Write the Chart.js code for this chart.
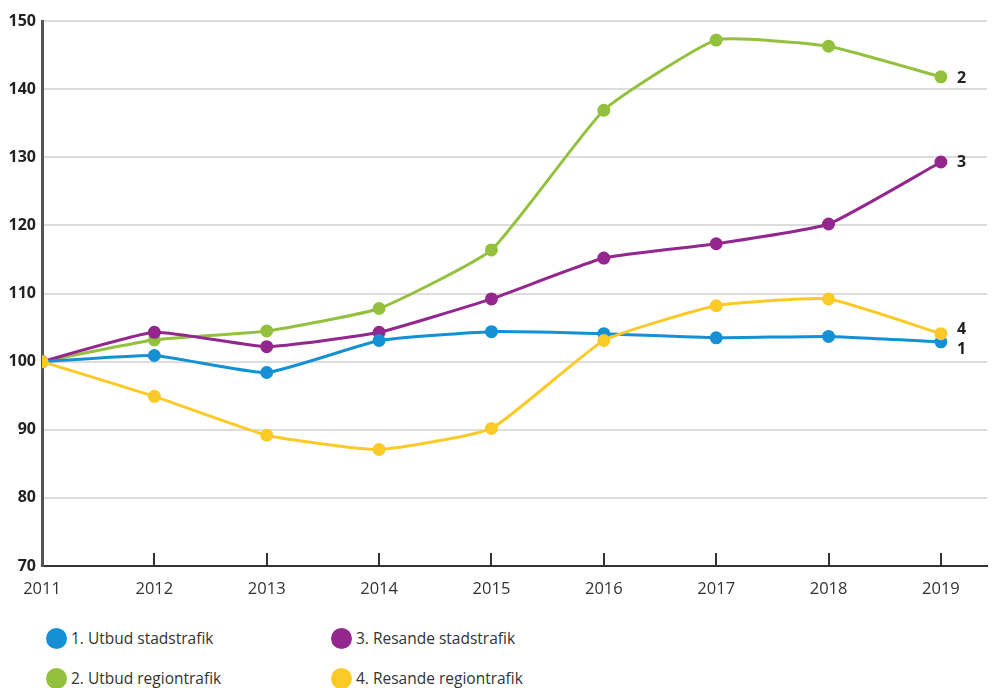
<!DOCTYPE html>
<html>
<head>
<meta charset="utf-8">
<script src="https://cdn.jsdelivr.net/npm/chart.js@4.4.1/dist/chart.umd.min.js"></script>
<style>
  html, body { margin: 0; padding: 0; background: #fff; }
  body { width: 995px; height: 688px; position: relative; overflow: hidden; font-family: "Open Sans", "Noto Sans", sans-serif; }
  #wrap { position: absolute; left: 0; top: 0; width: 995px; height: 608px; }
  .legend { position: absolute; font-size: 15.5px; color: #333; display: flex; align-items: center; white-space: nowrap; }
  .legend span.dot { display: inline-block; width: 21px; height: 21px; border-radius: 50%; margin-right: 4px; }
</style>
</head>
<body>
<div id="wrap"><canvas id="chart"></canvas></div>
<div id="legend"></div>
<script>
const years = [2011, 2012, 2013, 2014, 2015, 2016, 2017, 2018, 2019];
const yTicks = [70, 80, 90, 100, 110, 120, 130, 140, 150];

const utbudStad = [100, 100.9, 98.4, 103.1, 104.4, 104.1, 103.5, 103.7, 102.9];
const utbudRegion = [100, 103.2, 104.5, 107.8, 116.4, 136.9, 147.2, 146.3, 141.8];
const resandeStad = [100, 104.3, 102.2, 104.3, 109.2, 115.2, 117.3, 120.2, 129.3];
const resandeRegion = [100, 94.9, 89.2, 87.1, 90.2, 103.1, 108.2, 109.2, 104.1];

const seriesNames = ["1. Utbud stadstrafik", "2. Utbud regiontrafik", "3. Resande stadstrafik", "4. Resande regiontrafik"];
const endLabels = ["1", "2", "3", "4"];
const colors = ["#1590d5", "#94c13d", "#94278d", "#fcca28"];
const seriesData = [utbudStad, utbudRegion, resandeStad, resandeRegion];

// draw order: yellow, blue, purple, green on top
const drawOrder = [3, 0, 2, 1];
const endOffsets = { 0: 8, 1: 2, 2: 0, 3: -4 };

const datasets = drawOrder.map(i => ({
  label: seriesNames[i],
  idx: i,
  data: years.map((y, k) => ({ x: y, y: seriesData[i][k] })),
  borderColor: colors[i],
  backgroundColor: colors[i],
  borderWidth: 3,
  pointRadius: 5,
  pointHoverRadius: 5,
  tension: 0.14
}));

const extras = {
  id: "extras",
  afterDraw(chart) {
    const ctx = chart.ctx;
    const xs = chart.scales.x;
    const area = chart.chartArea;
    ctx.save();
    // upward tick marks on x axis
    ctx.strokeStyle = "#333";
    ctx.lineWidth = 2;
    years.slice(1).forEach(y => {
      const px = Math.round(xs.getPixelForValue(y));
      ctx.beginPath();
      ctx.moveTo(px, area.bottom);
      ctx.lineTo(px, area.bottom - 13);
      ctx.stroke();
    });
    // end labels
    ctx.font = "bold 16px 'Open Sans', sans-serif";
    ctx.fillStyle = "#222";
    ctx.textBaseline = "middle";
    chart.data.datasets.forEach((ds, di) => {
      const meta = chart.getDatasetMeta(di);
      const last = meta.data[meta.data.length - 1];
      ctx.fillText(endLabels[ds.idx], last.x + 16, last.y + endOffsets[ds.idx]);
    });
    ctx.restore();
  }
};

new Chart(document.getElementById("chart"), {
  type: "line",
  data: { datasets },
  options: {
    responsive: true,
    maintainAspectRatio: false,
    animation: false,
    layout: { padding: { top: 21, right: 0, left: 0, bottom: 0 } },
    plugins: { legend: { display: false }, tooltip: { enabled: false } },
    scales: {
      x: {
        type: "linear",
        min: 2011,
        max: 2019.41,
        afterBuildTicks(scale) {
          scale.ticks = years.map(v => ({ value: v }));
        },
        afterFit(scale) { scale.height = 42; },
        ticks: {
          color: "#333",
          padding: 13,
          maxRotation: 0,
          font: { family: "'Open Sans', sans-serif", size: 16.5 },
          callback: v => String(v)
        },
        grid: { display: false, drawTicks: false },
        border: { display: true, color: "#333", width: 2 }
      },
      y: {
        min: 70,
        max: 150,
        afterBuildTicks(scale) {
          scale.ticks = yTicks.map(v => ({ value: v }));
        },
        afterFit(scale) { scale.width = 42; },
        ticks: {
          color: "#222",
          padding: 6,
          font: { family: "'Open Sans', sans-serif", size: 16, weight: "bold" }
        },
        grid: { color: "#dddddd", lineWidth: 2, drawTicks: false },
        border: { display: true, color: "#555", width: 3 }
      }
    }
  },
  plugins: [extras]
});

// legend in two columns
const legendPos = [[46, 627], [46, 667], [331, 627], [331, 667]];
const legendEl = document.getElementById("legend");
seriesNames.forEach((name, i) => {
  const d = document.createElement("div");
  d.className = "legend";
  d.style.left = legendPos[i][0] + "px";
  d.style.top = legendPos[i][1] + "px";
  d.innerHTML = '<span class="dot" style="background:' + colors[i] + '"></span>' + name;
  legendEl.appendChild(d);
});
</script>
</body>
</html>
